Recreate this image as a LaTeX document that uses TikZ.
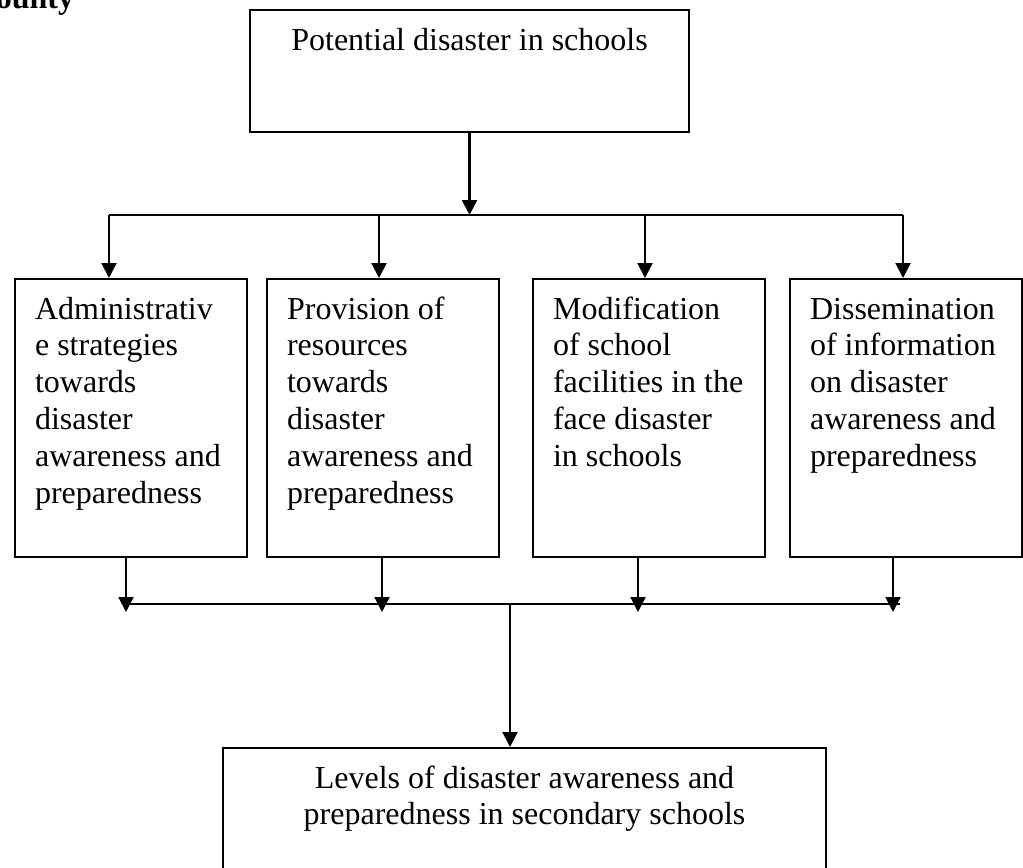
\documentclass[tikz,border=0pt]{standalone}
\usepackage{fontspec}
\setmainfont{Liberation Serif}
\usetikzlibrary{arrows.meta,positioning}
\newcommand{\boxlines}[3]{\parbox[c][#2][t]{#1}{#3}}

\begin{document}
\begin{tikzpicture}[x=0.375pt, y=-0.375pt, line width=0.8pt,
  font=\fontsize{12}{13.8}\selectfont,
  >={Triangle[length=5.6pt,width=5.6pt]},
  stage/.style={draw, inner xsep=7.5pt, inner ysep=5.34pt, anchor=north west}]
\useasboundingbox (0,0) rectangle (1023,867);

\node[font=\fontsize{12}{13.8}\selectfont\bfseries, anchor=base east] (county) at (84,9) {county};

\node[stage] (top) at (249,9) {\boxlines{149.6pt}{35.07pt}{\centering\strut Potential disaster in schools}};

\node[stage] (b1) at (14,278) {\boxlines{72pt}{93.57pt}{\raggedright\strut Administrativ\\ e strategies\\ towards\\ disaster\\ awareness and\\ preparedness}};
\node[stage] (b2) at (266,278) {\boxlines{72pt}{93.57pt}{\raggedright\strut Provision of\\ resources\\ towards\\ disaster\\ awareness and\\ preparedness}};
\node[stage] (b3) at (532,278) {\boxlines{72pt}{93.57pt}{\raggedright\strut Modification\\ of school\\ facilities in the\\ face disaster\\ in schools}};
\node[stage] (b4) at (789,278) {\boxlines{72pt}{93.57pt}{\raggedright\strut Dissemination\\ of information\\ on disaster\\ awareness and\\ preparedness}};

\node[stage] (goal) at (222,747) {\boxlines{211.1pt}{70pt}{\centering\strut Levels of disaster awareness and\\ preparedness in secondary schools}};

% split into the four areas
\foreach \x [count=\i] in {109,379,645,903}
{
  \coordinate (up\i) at (\x,215);
  \draw[->] (up\i) -- (up\i |- b\i.north);
}
\draw[->] (top) -- (top |- up1);
\draw (up1) -- (up4);

% join again
\foreach \x [count=\i] in {126,382,638,893}
{
  \coordinate (dn\i) at (\x,612);
  \draw[->] (b\i.south -| dn\i) -- (dn\i);
}
\coordinate (busL) at (126,604);
\coordinate (busR) at (900,604);
\coordinate (join) at (510,604);
\draw (busL) -- (busR);
\draw[->] (join) -- (join |- goal.north);
\end{tikzpicture}
\end{document}
